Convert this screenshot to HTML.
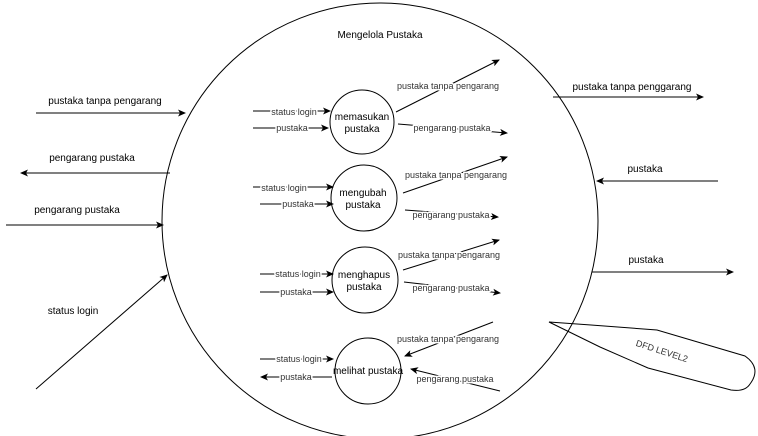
<!DOCTYPE html>
<html><head><meta charset="utf-8"><style>html,body{margin:0;padding:0;background:#fff}svg{display:block}text{font-family:"Liberation Sans",sans-serif}.w{stroke:#fff;stroke-width:3px;paint-order:stroke;stroke-linejoin:round}</style></head><body>
<svg width="758" height="436" viewBox="0 0 758 436" xmlns="http://www.w3.org/2000/svg">
<defs><marker id="a" markerWidth="8" markerHeight="8" refX="7" refY="4" orient="auto" markerUnits="userSpaceOnUse"><path d="M0,0.5 L8,4 L0,7.5 L2,4 Z" fill="#000"/></marker></defs>
<g fill="none" stroke="#000" stroke-width="1">
<circle cx="380" cy="221" r="218"/>
<circle cx="362" cy="122" r="32"/>
<circle cx="364" cy="198" r="33"/>
<circle cx="365" cy="280" r="33"/>
<circle cx="368" cy="371" r="33"/>
<path d="M549,322 L591,325 L657,330 L745,356 Q762,368 750,384 Q745,392 731,390 L648,368 L600,347 Z"/>
</g>
<g stroke="#000" stroke-width="1" marker-end="url(#a)" fill="none">
<line x1="36" y1="113" x2="185" y2="113"/>
<line x1="170" y1="173" x2="21" y2="173"/>
<line x1="6" y1="225" x2="163" y2="225"/>
<line x1="36" y1="389" x2="167" y2="275"/>
<line x1="553" y1="97" x2="703" y2="97"/>
<line x1="718" y1="181" x2="597" y2="181"/>
<line x1="592" y1="272" x2="733" y2="272"/>
<line x1="253" y1="111" x2="330" y2="111"/>
<line x1="253" y1="128" x2="328" y2="128"/>
<line x1="396" y1="112" x2="499" y2="60"/>
<line x1="398" y1="124" x2="507" y2="133"/>
<line x1="253" y1="187" x2="333" y2="187"/>
<line x1="260" y1="204" x2="333" y2="204"/>
<line x1="403" y1="193" x2="507" y2="157"/>
<line x1="405" y1="210" x2="498" y2="217"/>
<line x1="260" y1="274" x2="333" y2="274"/>
<line x1="260" y1="292" x2="333" y2="292"/>
<line x1="403" y1="270" x2="499" y2="240"/>
<line x1="404" y1="282" x2="500" y2="293"/>
<line x1="493" y1="322" x2="405" y2="356"/>
<line x1="500" y1="391" x2="411" y2="369"/>
<line x1="260" y1="359" x2="333" y2="359"/>
<line x1="332" y1="377" x2="261" y2="377"/>
</g>
<g font-size="9" fill="#333" text-anchor="middle">
<g fill="#000" font-size="10">
<text x="105" y="104">pustaka tanpa pengarang</text>
<text x="92" y="161">pengarang pustaka</text>
<text x="77" y="213">pengarang pustaka</text>
<text x="73" y="314">status login</text>
<text x="632" y="90">pustaka tanpa penggarang</text>
<text x="645" y="172">pustaka</text>
<text x="646" y="263">pustaka</text>
<text x="380" y="38">Mengelola  Pustaka</text>
<text x="362" y="120">memasukan</text><text x="362" y="132">pustaka</text>
<text x="363" y="196">mengubah</text><text x="363" y="208">pustaka</text>
<text x="364" y="278">menghapus</text><text x="364" y="290">pustaka</text>
<text x="368" y="374">melihat pustaka</text>
</g>
<text class="w" x="294" y="115">status login</text><text class="w" x="292" y="131">pustaka</text>
<text class="w" x="284" y="191">status login</text><text class="w" x="298" y="207">pustaka</text>
<text class="w" x="298" y="277">status login</text><text class="w" x="296" y="295">pustaka</text>
<text class="w" x="299" y="362">status login</text><text class="w" x="296" y="380">pustaka</text>
<text class="w" x="448" y="89">pustaka tanpa pengarang</text>
<text class="w" x="452" y="131">pengarang pustaka</text>
<text class="w" x="456" y="178">pustaka tanpa pengarang</text>
<text class="w" x="451" y="218">pengarang pustaka</text>
<text class="w" x="449" y="258">pustaka tanpa pengarang</text>
<text class="w" x="451" y="291">pengarang pustaka</text>
<text class="w" x="448" y="342">pustaka tanpa pengarang</text>
<text class="w" x="455" y="382">pengarang pustaka</text>
<text x="661" y="354" transform="rotate(18 661 354)" fill="#333">DFD LEVEL2</text>
</g>
</svg>
</body></html>
